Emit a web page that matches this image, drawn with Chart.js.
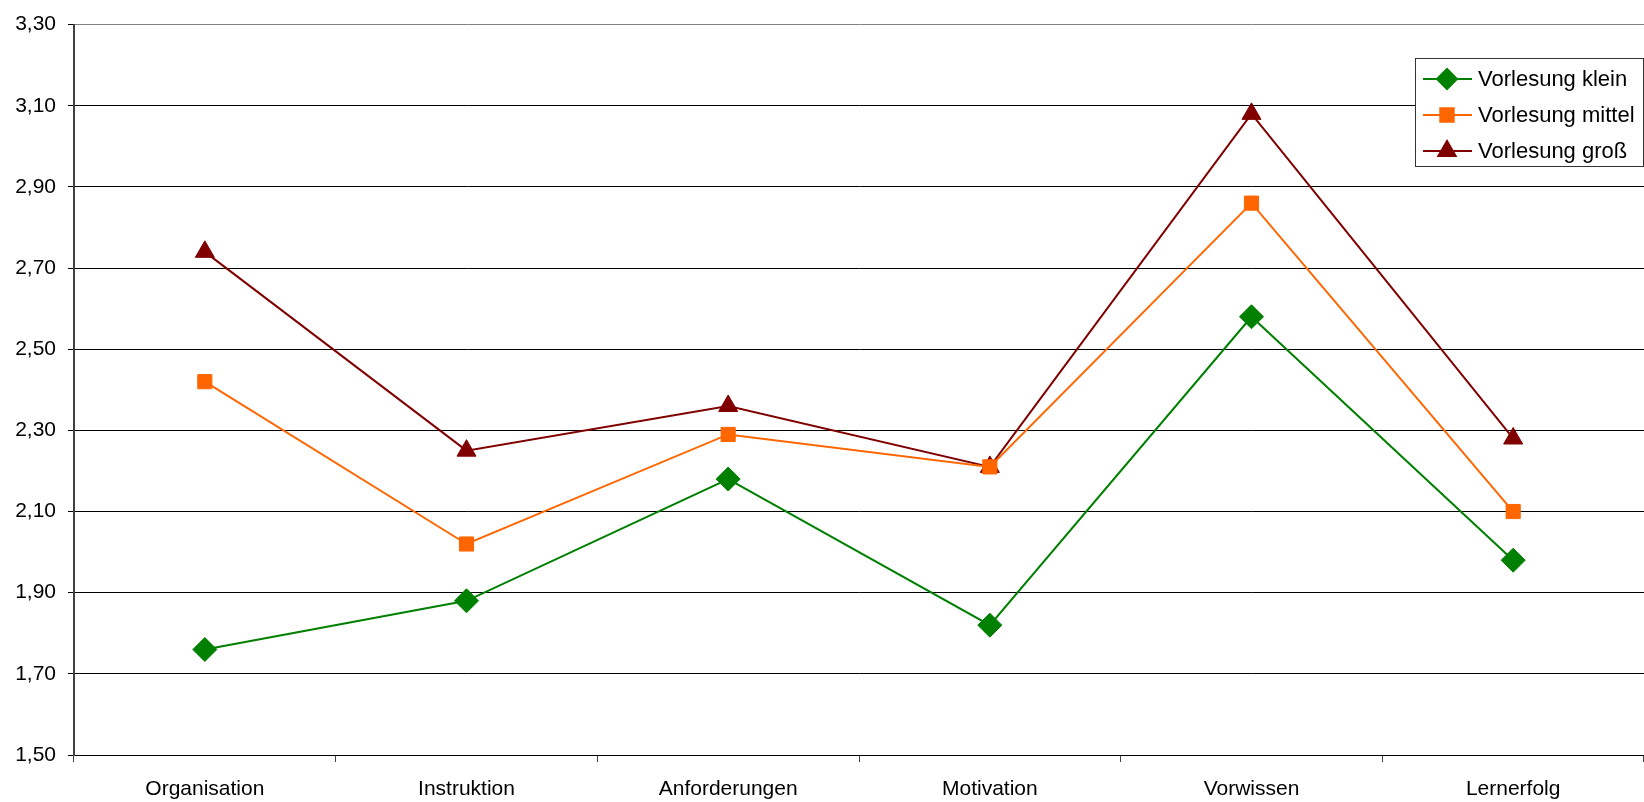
<!DOCTYPE html>
<html>
<head>
<meta charset="utf-8">
<script src="https://cdn.jsdelivr.net/npm/chart.js@4"></script>
<style>
html,body{margin:0;padding:0;background:#fff;overflow:hidden;}
#wrap{width:1644px;height:802px;position:relative;}
canvas{display:block;}
</style>
</head>
<body>
<div id="wrap"><canvas id="chart" width="1644" height="802"></canvas></div>
<script>
const categories=["Organisation","Instruktion","Anforderungen","Motivation","Vorwissen","Lernerfolg"];
const klein=[1.76,1.88,2.18,1.82,2.58,1.98];
const mittel=[2.42,2.02,2.29,2.21,2.86,2.10];
const gross=[2.74,2.25,2.36,2.21,3.08,2.28];
const seriesNames=["Vorlesung klein","Vorlesung mittel","Vorlesung groß"];
const yMin=1.5,yMax=3.3,yStep=0.2;

const styles=[
{color:"#008000",point:"rectRot",r:12},
{color:"#FF6600",point:"rect",r:10},
{color:"#800000",point:"triangle",r:11}
];

const legendBox={
id:"legendBox",
afterDraw(chart){
const ctx=chart.ctx;
ctx.save();
ctx.fillStyle="#fff";
ctx.fillRect(1415,58,229,109);
ctx.strokeStyle="#333";
ctx.lineWidth=1;
ctx.strokeRect(1415.5,58.5,228,108);
const rows=[79,115,151];
ctx.font="22px 'Liberation Sans', Arial, sans-serif";
ctx.textBaseline="middle";
seriesNames.forEach((name,i)=>{
const s=styles[i];
ctx.strokeStyle=s.color;
ctx.lineWidth=2;
ctx.beginPath();
ctx.moveTo(1423,rows[i]);
ctx.lineTo(1472,rows[i]);
ctx.stroke();
ctx.fillStyle=s.color;
Chart.helpers.drawPoint(ctx,{pointStyle:s.point,radius:i==0?10:i==1?9.5:10,borderWidth:1},1447,rows[i]);
ctx.fillStyle="#000";
ctx.fillText(name,1478,rows[i]+1);
});
ctx.restore();
}
};

const data=[klein,mittel,gross];

new Chart(document.getElementById("chart"),{
type:"line",
data:{
labels:categories,
datasets:data.map((d,i)=>({
label:seriesNames[i],
data:d,
borderColor:styles[i].color,
backgroundColor:styles[i].color,
borderWidth:2,
pointStyle:styles[i].point,
pointRadius:styles[i].r,
pointBorderWidth:1,
pointBorderColor:styles[i].color,
pointBackgroundColor:styles[i].color,
tension:0,
fill:false
}))
},
options:{
responsive:false,
animation:false,
events:[],
layout:{autoPadding:false,padding:{top:24,right:0,left:0,bottom:0}},
plugins:{legend:{display:false},tooltip:{enabled:false}},
scales:{
x:{
offset:true,
afterFit(scale){scale.height=47;scale.paddingRight=0;scale.paddingLeft=0;},
grid:{offset:true,drawOnChartArea:false,tickLength:7,color:"#404040",lineWidth:1},
border:{display:true,color:"#000",width:1},
ticks:{color:"#000",padding:15,font:{family:"'Liberation Sans', Arial, sans-serif",size:21},maxRotation:0,autoSkip:false}
},
y:{
min:yMin,
max:yMax,
afterFit(scale){scale.width=74;},
grid:{color:(c)=>c.index===c.scale.ticks.length-1?"#808080":"#000",lineWidth:1,tickLength:6,tickColor:"#000"},
border:{display:true,color:"#404040",width:2},
ticks:{
stepSize:yStep,
color:"#000",
padding:12,
font:{family:"'Liberation Sans', Arial, sans-serif",size:21},
callback:v=>v.toFixed(2).replace(".",",")
}
}
}
},
plugins:[legendBox]
});
</script>
</body>
</html>
